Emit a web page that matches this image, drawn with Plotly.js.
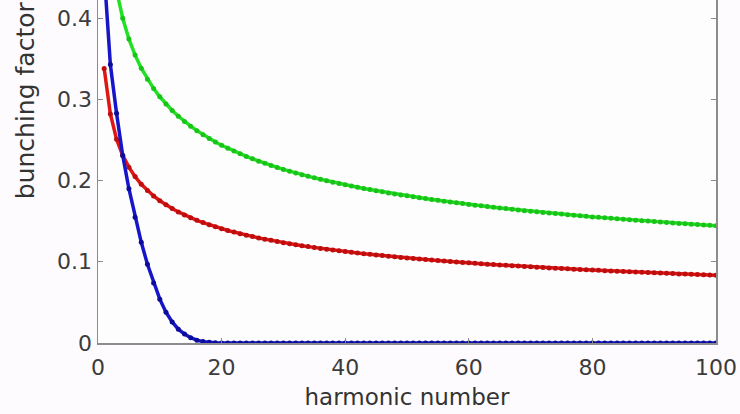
<!DOCTYPE html>
<html>
<head>
<meta charset="utf-8">
<script src="https://cdn.plot.ly/plotly-3.0.1.min.js"></script>
<style>
html,body{margin:0;padding:0;overflow:hidden;background:#fdfbfd;width:740px;height:414px;}
#chart{position:absolute;left:0;top:-20px;width:740px;height:434px;}
</style>
</head>
<body>
<div id="chart"></div>
<script>
// harmonic numbers 1..100
const harmonic = [1,2,3,4,5,6,7,8,9,10,11,12,13,14,15,16,17,18,19,20,
21,22,23,24,25,26,27,28,29,30,31,32,33,34,35,36,37,38,39,40,
41,42,43,44,45,46,47,48,49,50,51,52,53,54,55,56,57,58,59,60,
61,62,63,64,65,66,67,68,69,70,71,72,73,74,75,76,77,78,79,80,
81,82,83,84,85,86,87,88,89,90,91,92,93,94,95,96,97,98,99,100];

const greenSeries = [0.582,0.4851,0.4343,0.3999,0.3745,0.3545,0.3383,0.3248,0.3133,0.3032,
0.2943,0.2864,0.2792,0.2728,0.2670,0.2615,0.2565,0.2519,0.2476,0.2435,
0.2398,0.2363,0.2329,0.2298,0.2268,0.2239,0.2213,0.2187,0.2162,0.2138,
0.2115,0.2094,0.2073,0.2053,0.2034,0.2016,0.1998,0.1980,0.1964,0.1948,
0.1932,0.1918,0.1902,0.1889,0.1875,0.1862,0.1848,0.1836,0.1823,0.1812,
0.1800,0.1789,0.1778,0.1767,0.1757,0.1746,0.1736,0.1727,0.1717,0.1707,
0.1697,0.1689,0.1680,0.1671,0.1663,0.1655,0.1647,0.1638,0.1630,0.1622,
0.1616,0.1608,0.1601,0.1594,0.1587,0.1580,0.1573,0.1567,0.1560,0.1553,
0.1548,0.1541,0.1535,0.1529,0.1523,0.1517,0.1511,0.1506,0.1501,0.1495,
0.1489,0.1484,0.1479,0.1473,0.1468,0.1463,0.1459,0.1454,0.1449,0.1444];

const redSeries = [0.338,0.282,0.251,0.231,0.2165,0.2049,0.1955,0.1877,0.1811,0.1752,
0.1701,0.1655,0.1614,0.1577,0.1543,0.1511,0.1483,0.1456,0.1431,0.1407,
0.1386,0.1366,0.1346,0.1328,0.1311,0.1294,0.1279,0.1264,0.1250,0.1236,
0.1222,0.1210,0.1198,0.1187,0.1176,0.1165,0.1155,0.1144,0.1135,0.1126,
0.1117,0.1109,0.1099,0.1092,0.1084,0.1076,0.1068,0.1061,0.1054,0.1047,
0.1040,0.1034,0.1028,0.1021,0.1016,0.1009,0.1003,0.0998,0.0992,0.0987,
0.0981,0.0976,0.0971,0.0966,0.0961,0.0957,0.0952,0.0947,0.0942,0.0938,
0.0934,0.0929,0.0925,0.0921,0.0917,0.0913,0.0909,0.0906,0.0902,0.0898,
0.0895,0.0891,0.0887,0.0884,0.0880,0.0877,0.0873,0.0870,0.0868,0.0864,
0.0861,0.0858,0.0855,0.0851,0.0849,0.0846,0.0843,0.0840,0.0838,0.0834];

const blueSeries = [0.456,0.343,0.283,0.231,0.190,0.155,0.124,0.097,0.074,0.054,
0.038,0.026,0.017,0.011,0.0065,0.0035,0.0017,0.0008,0.0003,0.0001,
0,0,0,0,0,0,0,0,0,0,
0,0,0,0,0,0,0,0,0,0,
0,0,0,0,0,0,0,0,0,0,
0,0,0,0,0,0,0,0,0,0,
0,0,0,0,0,0,0,0,0,0,
0,0,0,0,0,0,0,0,0,0,
0,0,0,0,0,0,0,0,0,0,
0,0,0,0,0,0,0,0,0,0];

const xTicks = [0,20,40,60,80,100];
const yTicks = [0,0.1,0.2,0.3,0.4];
const yTickText = ['0','0.1','0.2','0.3','0.4'];

function series(y, lineColor, markerColor){
  return {x: harmonic, y: y, type:'scatter', mode:'lines+markers',
    line:{color:lineColor, width:3.5}, marker:{color:markerColor, size:5},
    cliponaxis:true, showlegend:false, hoverinfo:'skip'};
}

const data = [
  series(greenSeries, '#22e022', '#18c418'),
  series(redSeries, '#de1616', '#bf0c0c'),
  series(blueSeries, '#1616c8', '#0c0c9c')
];

const font = 'DejaVu Sans, sans-serif';
const axisCommon = {
  showline:true, linecolor:'#8c8c8c', linewidth:1.5, mirror:'ticks',
  ticks:'inside', ticklen:5, tickcolor:'#8c8c8c', tickwidth:1.2,
  showgrid:false, zeroline:false,
  tickfont:{family:font, size:22, color:'#3c3c3c'}
};

const layout = {
  width:740, height:434,
  margin:{l:98, r:24, t:0, b:71},
  paper_bgcolor:'#fdfbfd', plot_bgcolor:'#fefdfe',
  xaxis: Object.assign({}, axisCommon, {
    range:[0,100], tickvals:xTicks, ticktext:xTicks.map(String),
    ticklabelstandoff:4,
    title:{text:'harmonic number', font:{family:font, size:23, color:'#333333'}, standoff:10}
  }),
  yaxis: Object.assign({}, axisCommon, {
    range:[0,0.447], tickvals:yTicks, ticktext:yTickText
  }),
  annotations:[{
    text:'bunching factor', textangle:-90, showarrow:false,
    xref:'paper', yref:'paper', x:-0.118, y:0.669, xanchor:'center', yanchor:'middle',
    font:{family:font, size:25, color:'#333333'}
  }]
};

Plotly.newPlot('chart', data, layout, {staticPlot:true, displayModeBar:false});
</script>
</body>
</html>
